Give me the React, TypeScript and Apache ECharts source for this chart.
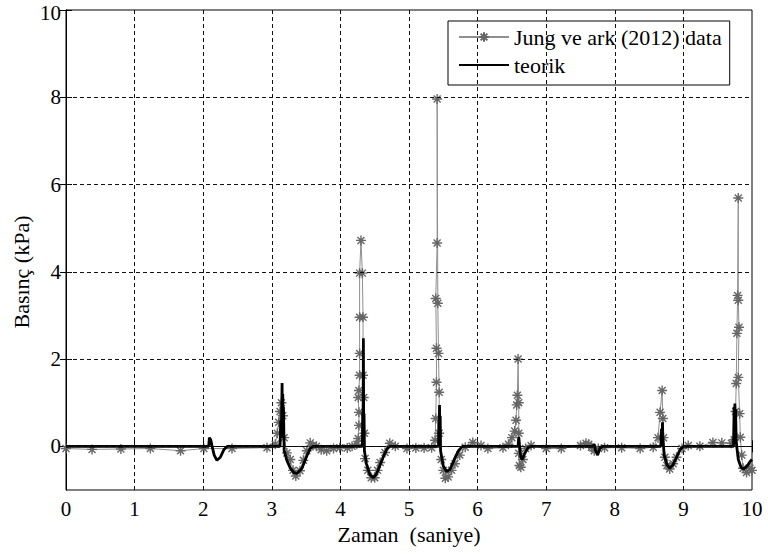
import React, { useEffect, useRef } from "react";
import * as echarts from "echarts";

// Jung ve ark (2012) data
const dataTime = [
  0.0, 0.38, 0.8, 1.23, 1.67, 2.01, 2.42, 2.93, 3.05, 3.08, 3.1, 3.12, 3.14, 3.16, 3.18, 3.22, 3.27, 3.31, 3.35, 3.41,
  3.46, 3.51, 3.56, 3.6, 3.65, 3.72, 3.8, 3.9, 3.99, 4.1, 4.17, 4.24, 4.26, 4.27, 4.27, 4.26, 4.27, 4.28, 4.28, 4.28,
  4.28, 4.3, 4.32, 4.33, 4.33, 4.34, 4.35, 4.36, 4.4, 4.45, 4.5, 4.54, 4.58, 4.65, 4.72, 4.8, 4.97, 5.1, 5.22, 5.33,
  5.38, 5.39, 5.4, 5.4, 5.39, 5.41, 5.41, 5.42, 5.43, 5.44, 5.44, 5.47, 5.5, 5.53, 5.57, 5.62, 5.67, 5.74, 5.82, 5.93,
  6.05, 6.15, 6.37, 6.45, 6.5, 6.54, 6.56, 6.57, 6.58, 6.59, 6.6, 6.6, 6.6, 6.61, 6.63, 6.66, 6.7, 6.78, 7.0, 7.22,
  7.5, 7.58, 7.62, 7.66, 7.7, 7.76, 7.85, 8.1, 8.37, 8.56, 8.63, 8.66, 8.69, 8.7, 8.71, 8.73, 8.76, 8.8, 8.85, 8.9,
  8.98, 9.07, 9.24, 9.43, 9.56, 9.7, 9.74, 9.76, 9.77, 9.78, 9.79, 9.8, 9.8, 9.81, 9.8, 9.82, 9.83, 9.85, 9.87, 9.92,
  9.97, 10.0,
];
const dataPressure = [
  -0.05, -0.07, -0.06, -0.05, -0.1, -0.05, -0.05, -0.03, 0.05, 0.3, 0.55, 0.8, 1.0, 0.7, 0.2, -0.15, -0.3, -0.55, -0.68, -0.56,
  -0.32, -0.1, 0.08, 0.02, 0.0, -0.08, -0.1, -0.05, -0.03, -0.04, 0.0, 0.05, 0.18, 0.48, 0.78, 1.12, 1.28, 1.63, 2.13, 2.96,
  3.97, 4.72, 3.97, 2.96, 1.63, 1.12, 0.3, -0.28, -0.55, -0.72, -0.72, -0.55, -0.37, -0.14, 0.07, 0.0, -0.05, -0.04, -0.04, -0.03,
  0.14, 0.64, 1.47, 2.25, 3.39, 4.66, 7.96, 3.28, 2.13, 1.24, 0.3, -0.3, -0.55, -0.73, -0.7, -0.55, -0.4, -0.2, -0.02, 0.09,
  0.02, -0.05, -0.03, 0.05, 0.2, 0.35, 0.6, 0.95, 1.17, 2.0, 1.0, 0.3, -0.16, -0.44, -0.48, -0.3, -0.05, 0.02, -0.05, -0.05,
  0.02, 0.07, 0.05, -0.02, -0.1, -0.05, -0.03, -0.03, -0.05, -0.02, 0.2, 0.78, 1.28, 0.64, 0.2, -0.25, -0.44, -0.52, -0.4, -0.25,
  -0.05, 0.02, 0.0, 0.09, 0.08, 0.07, 0.15, 0.8, 1.44, 2.59, 3.46, 5.69, 3.35, 2.73, 1.58, 0.75, 0.21, -0.2, -0.5, -0.6,
  -0.5, -0.55,
];

// teorik
const teoTime = [
  0, 2.08, 2.09, 2.11, 2.13, 2.16, 2.2, 2.25, 2.3, 2.35, 3.12, 3.13, 3.14, 3.15, 3.155, 3.16, 3.165, 3.17, 3.18, 3.22,
  3.27, 3.32, 3.37, 3.44, 3.51, 3.56, 3.6, 4.32, 4.325, 4.33, 4.335, 4.34, 4.345, 4.35, 4.38, 4.43, 4.48, 4.53, 4.58, 4.63,
  4.68, 4.72, 5.43, 5.435, 5.44, 5.445, 5.45, 5.455, 5.46, 5.5, 5.55, 5.6, 5.66, 5.72, 5.78, 6.59, 6.6, 6.61, 6.63, 6.65,
  6.69, 6.74, 6.78, 7.68, 7.7, 7.72, 7.75, 7.78, 7.82, 8.67, 8.68, 8.69, 8.695, 8.7, 8.72, 8.76, 8.8, 8.85, 8.9, 8.95,
  9.0, 9.73, 9.74, 9.745, 9.75, 9.755, 9.76, 9.77, 9.8, 9.84, 9.88, 9.93, 9.97, 10.0,
];
const teoPressure = [
  0, 0, 0.2, 0.15, 0, -0.2, -0.32, -0.25, -0.08, 0, 0, 0.6, 0.3, 1.45, 0.4, 1.2, 0.2, 0.9, -0.1, -0.32,
  -0.5, -0.6, -0.62, -0.5, -0.22, -0.05, 0, 0, 0.8, 0.2, 2.48, 0.3, 0.75, -0.1, -0.4, -0.65, -0.72, -0.62, -0.42, -0.22,
  -0.05, 0, 0, 0.6, 0.2, 0.95, 0.3, 0.7, -0.1, -0.45, -0.58, -0.52, -0.3, -0.1, 0, 0, 0.22, 0.05, -0.25, -0.3,
  -0.15, -0.02, 0, 0, 0.05, -0.1, -0.2, -0.05, 0, 0, 0.4, 0.1, 0.55, 0.2, -0.2, -0.42, -0.5, -0.42, -0.25, -0.08,
  0, 0, 0.9, 0.3, 0.98, 0.4, 0.85, 0.1, -0.3, -0.48, -0.52, -0.45, -0.35, -0.3,
];

const yTicks = [0, 2, 4, 6, 8, 10];
const xGrid = [1, 2, 3, 4, 5, 6, 7, 8, 9];
const yGrid = [0, 2, 4, 6, 8];

const FONT = "Liberation Serif";
const STAR = "path://M0 5 L10 5 M5 0 L5 10 M1.5 1.5 L8.5 8.5 M8.5 1.5 L1.5 8.5";

export default function App() {
  const ref = useRef<HTMLDivElement>(null);
  useEffect(() => {
    if (!ref.current) return;
    const chart = echarts.init(ref.current, undefined, { renderer: "svg" });
    const dataPts = dataTime.map((t, i) => [t, dataPressure[i]]);
    const teoPts = teoTime.map((t, i) => [t, teoPressure[i]]);
    const gridLine = { color: "#111", width: 1, type: [4, 3] as number[] };
    chart.setOption({
      animation: false,
      backgroundColor: "#fff",
      textStyle: { fontFamily: FONT },
      grid: {
        left: 66,
        right: 16,
        top: 10,
        bottom: 64,
        containLabel: false,
        outerBoundsMode: "none",
        show: true,
        borderColor: "#000",
        borderWidth: 1,
        backgroundColor: "transparent",
      },
      graphic: [
        {
          type: "text",
          x: 21,
          y: 272,
          rotation: Math.PI / 2,
          style: {
            text: "Basınç (kPa)",
            fontFamily: FONT,
            fontSize: 22,
            fill: "#000",
            align: "center",
            verticalAlign: "middle",
            textAlign: "center",
            textVerticalAlign: "middle",
          },
        },
      ],
      legend: {
        left: 448,
        top: 21,
        orient: "vertical",
        backgroundColor: "#fff",
        borderColor: "#000",
        borderWidth: 1,
        borderRadius: 0,
        padding: [4, 8, 8, 10],
        itemWidth: 50,
        itemHeight: 12,
        itemGap: 4,
        textStyle: { fontFamily: FONT, fontSize: 22, color: "#000", lineHeight: 24 },
        data: [
          { name: "Jung ve ark (2012) data" },
          { name: "teorik", itemStyle: { opacity: 0 } },
        ],
      },
      xAxis: [
        {
          type: "value",
          min: 0,
          max: 10,
          interval: 1,
          name: "Zaman  (saniye)",
          nameLocation: "middle",
          nameGap: 28,
          nameTextStyle: { fontFamily: FONT, fontSize: 22, color: "#000" },
          axisLine: { lineStyle: { color: "#000" } },
          axisTick: { inside: true, length: 6, lineStyle: { color: "#000" } },
          axisLabel: { fontFamily: FONT, fontSize: 21, color: "#000", margin: 8 },
          splitLine: { show: false },
        },
        {
          type: "value",
          position: "top",
          min: 0,
          max: 10,
          interval: 1,
          axisLine: { lineStyle: { color: "#000" } },
          axisTick: { inside: true, length: 6, lineStyle: { color: "#000" } },
          axisLabel: { show: false },
          splitLine: { show: false },
        },
      ],
      yAxis: [
        {
          type: "value",
          min: -1,
          max: 10,
          interval: 1,
          axisLine: { show: true, lineStyle: { color: "#000" } },
          axisTick: { inside: true, length: 6, lineStyle: { color: "#000" }, customValues: yTicks },
          axisLabel: {
            fontFamily: FONT,
            fontSize: 21,
            color: "#000",
            margin: 5,
            customValues: yTicks,
            formatter: (v: number) =>
              v === 10 ? "{top|10}" : v >= 0 && v % 2 === 0 ? String(v) : "",
            rich: {
              top: { fontFamily: FONT, fontSize: 21, color: "#000", lineHeight: 16, padding: [6, 0, 0, 0] },
            },
          },
          splitLine: { show: false },
        },
        {
          type: "value",
          position: "right",
          min: -1,
          max: 10,
          interval: 1,
          axisLine: { show: true, lineStyle: { color: "#000" } },
          axisTick: { inside: true, length: 6, lineStyle: { color: "#000" }, customValues: yTicks },
          axisLabel: { show: false },
          splitLine: { show: false },
        },
      ],
      series: [
        {
          name: "Jung ve ark (2012) data",
          type: "line",
          data: dataPts,
          symbol: STAR,
          symbolSize: 10,
          showAllSymbol: true,
          lineStyle: { color: "#8f8f8f", width: 1 },
          itemStyle: { color: "none", borderColor: "#666", borderWidth: 1.4 },
          z: 2,
          markLine: {
            silent: true,
            symbol: ["none", "none"],
            label: { show: false },
            lineStyle: gridLine,
            data: [...xGrid.map((v) => ({ xAxis: v })), ...yGrid.map((v) => ({ yAxis: v }))],
          },
        },
        {
          name: "teorik",
          type: "line",
          data: teoPts,
          symbol: "none",
          lineStyle: { color: "#000", width: 2.8 },
          itemStyle: { color: "#000" },
          z: 3,
        },
      ],
    });
    return () => chart.dispose();
  }, []);
  return <div ref={ref} style={{ width: 768, height: 554, position: "absolute", left: 0, top: 0 }} />;
}
